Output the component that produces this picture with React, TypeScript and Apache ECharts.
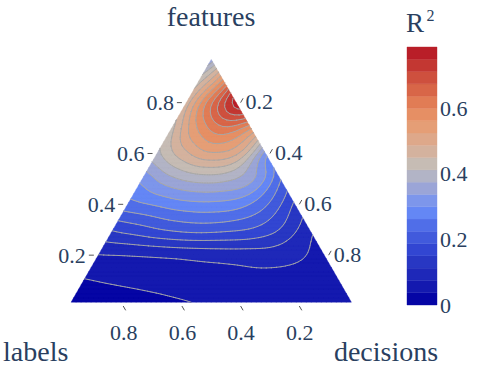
import React, { useEffect, useRef } from "react";
import * as echarts from "echarts";

const FONT = "Liberation Serif";
const TEXT_COLOR = "#2a3f5f";

const titleFeatures = "features";
const titleLabels = "labels";
const titleDecisions = "decisions";

const featuresTicks = [0.2, 0.4, 0.6, 0.8];
const labelsTicks = [0.2, 0.4, 0.6, 0.8];
const decisionsTicks = [0.2, 0.4, 0.6, 0.8];
const colorbarTicks = [0, 0.2, 0.4, 0.6];

// R² read on a ternary grid. One array per features share;
// entries go decisions = 0, 0.1, ... (labels = 1 - features - decisions)
const r2Features100 = [0.28];
const r2Features90 = [0.4, 0.57];
const r2Features80 = [0.44, 0.63, 0.78];
const r2Features70 = [0.42, 0.56, 0.63, 0.55];
const r2Features60 = [0.39, 0.47, 0.52, 0.48, 0.29];
const r2Features50 = [0.305, 0.36, 0.39, 0.385, 0.335, 0.21];
const r2Features40 = [0.245, 0.265, 0.285, 0.29, 0.275, 0.22, 0.13];
const r2Features30 = [0.15, 0.17, 0.19, 0.2, 0.195, 0.18, 0.14, 0.075];
const r2Features20 = [0.073, 0.076, 0.08, 0.085, 0.09, 0.093, 0.095, 0.08, 0.058];
const r2Features10 = [0.034, 0.041, 0.046, 0.05, 0.054, 0.057, 0.059, 0.06, 0.058, 0.055];
const r2Features0 = [0.0, 0.012, 0.02, 0.027, 0.033, 0.039, 0.044, 0.048, 0.05, 0.052, 0.052];

const r2Rows = [
  r2Features0, r2Features10, r2Features20, r2Features30, r2Features40, r2Features50,
  r2Features60, r2Features70, r2Features80, r2Features90, r2Features100,
];

const zMax = 0.787;
const bandColors = [
  "#0505a5", "#1419af", "#1e28b9", "#2837c3", "#3246d2", "#415adc", "#506ee8",
  "#6487f5", "#7d96eb", "#9ba5d7", "#b2b4c6", "#c6bcb4", "#d4b29e", "#dea88a",
  "#e59e76", "#e68f64", "#e17c55", "#d86648", "#ce503e", "#c33732", "#b91e28",
];
const nBands = bandColors.length;
const bandStep = zMax / nBands;

const EXT = 3;
function buildExtended(): number[][] {
  const g: (number | null)[][] = [];
  for (let p = -EXT; p <= 10 + EXT; p++) {
    const row: (number | null)[] = [];
    for (let q = -EXT; q <= 10 + EXT; q++) {
      row.push(p >= 0 && q >= 0 && p + q <= 10 ? r2Rows[p][q] : null);
    }
    g.push(row);
  }
  const S = g.length;
  const dirs = [[1, 0], [-1, 0], [0, 1], [0, -1], [1, -1], [-1, 1]];
  for (let iter = 0; iter < 100; iter++) {
    let remaining = false;
    const updates: [number, number, number][] = [];
    for (let i = 0; i < S; i++) for (let j = 0; j < S; j++) {
      if (g[i][j] !== null) continue;
      remaining = true;
      let s = 0, n = 0;
      for (const [dp, dq] of dirs) {
        const i1 = i + dp, j1 = j + dq, i2 = i + 2 * dp, j2 = j + 2 * dq;
        if (i2 < 0 || j2 < 0 || i2 >= S || j2 >= S) continue;
        const v1 = g[i1][j1], v2 = g[i2][j2];
        if (v1 !== null && v2 !== null) { s += 2 * v1 - v2; n++; }
      }
      if (n) updates.push([i, j, s / n]);
    }
    if (!remaining) break;
    if (updates.length === 0) {
      for (let i = 0; i < S; i++) for (let j = 0; j < S; j++) {
        if (g[i][j] !== null) continue;
        for (const [dp, dq] of dirs) {
          const i1 = i + dp, j1 = j + dq;
          if (i1 < 0 || j1 < 0 || i1 >= S || j1 >= S) continue;
          const v1 = g[i1][j1];
          if (v1 !== null) { updates.push([i, j, v1]); break; }
        }
      }
    }
    for (const u of updates) g[u[0]][u[1]] = u[2];
  }
  return g as number[][];
}

function cr(p0: number, p1: number, p2: number, p3: number, t: number) {
  return 0.5 * (2 * p1 + (p2 - p0) * t + (2 * p0 - 5 * p1 + 4 * p2 - p3) * t * t + (3 * p1 - p0 - 3 * p2 + p3) * t * t * t);
}

function field(g: number[][], a: number, c: number) {
  const P = a * 10, Q = c * 10;
  let i = Math.floor(P), j = Math.floor(Q);
  i = Math.min(Math.max(i, 0), 9);
  j = Math.min(Math.max(j, 0), 9);
  const tp = P - i, tq = Q - j;
  const col: number[] = [];
  for (let r = -1; r <= 2; r++) {
    const row = g[i + r + EXT];
    col.push(cr(row[j - 1 + EXT], row[j + EXT], row[j + 1 + EXT], row[j + 2 + EXT], tq));
  }
  return cr(col[0], col[1], col[2], col[3], tp);
}

type Pt = { x: number; y: number; v: number };

function clipPoly(poly: Pt[], level: number, keepAbove: boolean): Pt[] {
  const out: Pt[] = [];
  for (let i = 0; i < poly.length; i++) {
    const A = poly[i], B = poly[(i + 1) % poly.length];
    const ina = keepAbove ? A.v >= level : A.v <= level;
    const inb = keepAbove ? B.v >= level : B.v <= level;
    if (ina) out.push(A);
    if (ina !== inb) {
      const t = (level - A.v) / (B.v - A.v);
      out.push({ x: A.x + t * (B.x - A.x), y: A.y + t * (B.y - A.y), v: level });
    }
  }
  return out;
}

function bandOf(v: number) {
  return Math.min(Math.max(Math.floor(v / bandStep), 0), nBands - 1);
}

const f2 = (n: number) => n.toFixed(2);
const fmtTick = (v: number) => (v === 0 ? "0" : v.toFixed(1));

function textStyle(text: string, size: number, align: string) {
  return {
    text,
    fill: TEXT_COLOR,
    fontSize: size,
    fontFamily: FONT,
    font: `${size}px "${FONT}"`,
    align,
    verticalAlign: "middle",
  };
}

function buildOption() {
  const g = buildExtended();

  const contourItem = (params: any, api: any) => {
    const N = 56;
    const m = 0.015;
    const s = 1 - 3 * m;
    const nodes: Pt[][] = [];
    for (let I = 0; I <= N; I++) {
      nodes[I] = [];
      for (let J = 0; J <= N - I; J++) {
        const a = m + (s * I) / N;
        const c = m + (s * J) / N;
        const v = field(g, a, c);
        const p = api.coord([c + a / 2, a]);
        nodes[I][J] = { x: p[0], y: p[1], v };
      }
    }
    const bandParts: string[][] = bandColors.map(() => []);
    const lineParts: string[] = [];
    const polyStr = (poly: Pt[]) =>
      "M" + poly.map((p) => f2(p.x) + " " + f2(p.y)).join("L") + "Z";
    const tri = (A: Pt, B: Pt, C: Pt) => {
      const vs = [A.v, B.v, C.v];
      const kmin = bandOf(Math.min(...vs));
      const kmax = bandOf(Math.max(...vs));
      if (kmin === kmax) {
        bandParts[kmin].push(polyStr([A, B, C]));
      } else {
        for (let k = kmin; k <= kmax; k++) {
          let poly: Pt[] = [A, B, C];
          if (k > kmin) poly = clipPoly(poly, k * bandStep, true);
          if (k < kmax && poly.length >= 3) poly = clipPoly(poly, (k + 1) * bandStep, false);
          if (poly.length >= 3) bandParts[k].push(polyStr(poly));
        }
        for (let k = kmin + 1; k <= kmax; k++) {
          const L = k * bandStep;
          const pts: Pt[] = [];
          const P3 = [A, B, C];
          for (let e = 0; e < 3; e++) {
            const U = P3[e], W = P3[(e + 1) % 3];
            if ((U.v >= L) !== (W.v >= L)) {
              const t = (L - U.v) / (W.v - U.v);
              pts.push({ x: U.x + t * (W.x - U.x), y: U.y + t * (W.y - U.y), v: L });
            }
          }
          if (pts.length === 2) {
            lineParts.push("M" + f2(pts[0].x) + " " + f2(pts[0].y) + "L" + f2(pts[1].x) + " " + f2(pts[1].y));
          }
        }
      }
    };
    for (let I = 0; I < N; I++) {
      for (let J = 0; J < N - I; J++) {
        tri(nodes[I][J], nodes[I + 1][J], nodes[I][J + 1]);
        if (I + J <= N - 2) tri(nodes[I + 1][J], nodes[I + 1][J + 1], nodes[I][J + 1]);
      }
    }
    const children: any[] = [];
    bandParts.forEach((parts, k) => {
      if (parts.length) {
        children.push({
          type: "path",
          shape: { pathData: parts.join("") },
          style: { fill: bandColors[k], stroke: bandColors[k], lineWidth: 0.4 },
          silent: true,
        });
      }
    });
    children.push({
      type: "path",
      shape: { pathData: lineParts.join("") },
      style: { fill: "none", stroke: "#a6a6a6", lineWidth: 0.9, lineCap: "round" },
      silent: true,
    });
    return { type: "group", children };
  };

  const tickItem = (params: any, api: any) => {
    const children: any[] = [];
    const tl = 5;
    const txt = (x: number, y: number, text: string, align: string) => ({
      type: "text",
      x,
      y,
      style: textStyle(text, 22, align),
    });
    const ln = (x1: number, y1: number, x2: number, y2: number) => ({
      type: "line",
      shape: { x1, y1, x2, y2 },
      style: { stroke: "#555", lineWidth: 1 },
    });
    for (const a of featuresTicks) {
      const p = api.coord([a / 2, a]);
      children.push(ln(p[0] - tl, p[1], p[0], p[1]));
      children.push(txt(p[0] - 8, p[1], fmtTick(a), "right"));
    }
    for (const c of decisionsTicks) {
      const p = api.coord([(1 + c) / 2, 1 - c]);
      children.push(ln(p[0], p[1], p[0] + tl * 0.5, p[1] - tl * 0.866));
      children.push(txt(p[0] + 5, p[1] - 1, fmtTick(c), "left"));
    }
    for (const b of labelsTicks) {
      const p = api.coord([1 - b, 0]);
      children.push(ln(p[0], p[1], p[0] + tl * 0.5, p[1] + tl * 0.866));
      children.push(txt(p[0] + 0.5, p[1] + 26, fmtTick(b), "center"));
    }
    return { type: "group", children };
  };

  const barItem = (params: any, api: any) => {
    const k = api.value(0);
    const p0 = api.coord([0, k * bandStep]);
    const p1 = api.coord([1, (k + 1) * bandStep]);
    return {
      type: "rect",
      shape: { x: p0[0], y: p1[1], width: p1[0] - p0[0], height: p0[1] - p1[1] },
      style: { fill: bandColors[k], stroke: bandColors[k], lineWidth: 0.4 },
    };
  };

  return {
    animation: false,
    textStyle: { fontFamily: FONT },
    grid: [
      { left: 64.5, top: 51.8, width: 293.5, height: 254.2, show: false },
      { left: 407, top: 47, width: 30, height: 258, show: false },
    ],
    xAxis: [
      { type: "value", gridIndex: 0, min: 0, max: 1, show: false },
      { type: "value", gridIndex: 1, min: 0, max: 1, show: false },
    ],
    yAxis: [
      { type: "value", gridIndex: 0, min: 0, max: 1, show: false },
      {
        type: "value",
        gridIndex: 1,
        min: 0,
        max: zMax,
        interval: 0.2,
        position: "right",
        axisLine: { show: false },
        axisTick: { show: false },
        splitLine: { show: false },
        axisLabel: {
          fontSize: 22,
          color: TEXT_COLOR,
          fontFamily: FONT,
          margin: 3,
          showMaxLabel: false,
          formatter: (v: number) => {
            const hit = colorbarTicks.find((t) => Math.abs(t - v) < 1e-6);
            return hit === undefined ? "" : fmtTick(hit);
          },
        },
      },
    ],
    graphic: [
      { type: "text", x: 211, y: 16.5, style: textStyle(titleFeatures, 28, "center") },
      { type: "text", x: 3, y: 351, style: textStyle(titleLabels, 28, "left") },
      { type: "text", x: 386, y: 351, style: textStyle(titleDecisions, 28, "center") },
      { type: "text", x: 406, y: 22.5, style: textStyle("R", 27, "left") },
      { type: "text", x: 426.5, y: 15.3, style: textStyle("2", 16, "left") },
    ],
    series: [
      {
        type: "custom",
        xAxisIndex: 0,
        yAxisIndex: 0,
        silent: true,
        data: [[0]],
        renderItem: contourItem,
      },
      {
        type: "custom",
        xAxisIndex: 0,
        yAxisIndex: 0,
        silent: true,
        data: [[0]],
        renderItem: tickItem,
      },
      {
        type: "custom",
        xAxisIndex: 1,
        yAxisIndex: 1,
        silent: true,
        data: bandColors.map((_, k) => [k]),
        renderItem: barItem,
      },
    ],
  };
}

export default function App() {
  const ref = useRef<HTMLDivElement>(null);
  useEffect(() => {
    const chart = echarts.init(ref.current!, null, { renderer: "svg" });
    chart.setOption(buildOption() as any);
    return () => chart.dispose();
  }, []);
  return (
    <div
      ref={ref}
      style={{ width: 477, height: 366, position: "absolute", left: 0, top: 0, background: "#fff" }}
    />
  );
}
